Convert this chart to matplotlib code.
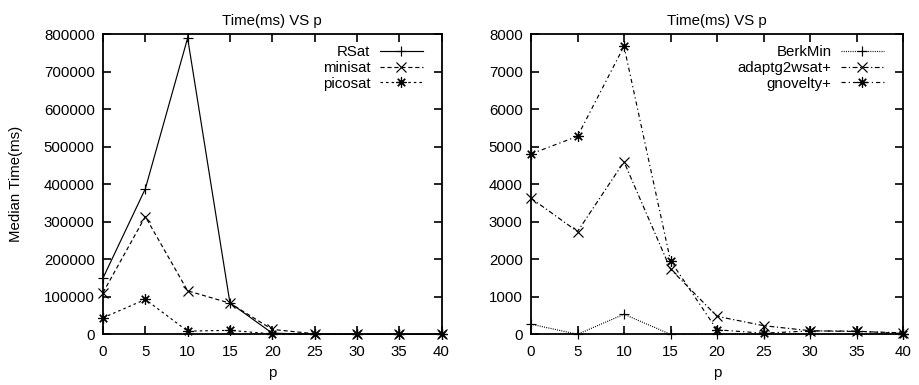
import matplotlib
matplotlib.use("Agg")
import matplotlib.pyplot as plt

plt.rcParams['font.family'] = ['Liberation Sans', 'DejaVu Sans']
plt.rcParams['lines.scale_dashes'] = False

p = [0, 5, 10, 15, 20, 25, 30, 35, 40]

# left panel (ms)
rsat = [150000, 388000, 790000, 84000, 3000, 0, 0, 0, 0]
minisat = [111000, 314000, 116000, 83000, 13000, 1500, 0, 0, 0]
picosat = [44000, 93000, 8500, 10500, 1000, 0, 0, 0, 0]

# right panel (ms)
berkmin = [270, 0, 535, 0, 0, 0, 0, 0, 0]
adaptg2wsat = [3630, 2740, 4600, 1740, 480, 230, 95, 75, 40]
gnovelty = [4810, 5280, 7680, 1960, 120, 30, 90, 85, 20]

title = "Time(ms) VS p"
xlabel = "p"
ylabel = "Median Time(ms)"
left_yticks = [0, 100000, 200000, 300000, 400000, 500000, 600000, 700000, 800000]
right_yticks = [0, 1000, 2000, 3000, 4000, 5000, 6000, 7000, 8000]
xticks = [0, 5, 10, 15, 20, 25, 30, 35, 40]

W, H = 919, 385
fig = plt.figure(figsize=(W / 100, H / 100), dpi=100)

def px_axes(x0, x1, ytop, ybot):
    return fig.add_axes([x0 / W, 1 - ybot / H, (x1 - x0) / W, (ybot - ytop) / H])

ax1 = px_axes(103, 441.5, 34.3, 334.3)
ax2 = px_axes(531, 903, 34.3, 334.3)

fs = 10.8
lw = 0.85
ms = 7.5
star = (8, 2, 0)

def style(ax, yticks, ymax):
    ax.set_xlim(0, 40)
    ax.set_ylim(0, ymax)
    ax.set_xticks(xticks)
    ax.set_yticks(yticks)
    ax.set_xticklabels([str(v) for v in xticks])
    ax.set_yticklabels([str(v) for v in yticks])
    ax.tick_params(direction='in', length=6, width=1.2, top=True, right=True,
                   labelsize=fs, colors='black')
    ax.tick_params(axis='y', pad=6)
    ax.tick_params(axis='x', pad=8)
    for s in ax.spines.values():
        s.set_linewidth(1.3)
    ax.set_title(title, fontsize=fs, pad=7)
    ax.set_xlabel(xlabel, fontsize=fs, labelpad=5)

ax1.plot(p, rsat, color='black', lw=lw, ls='-', marker='+', ms=ms, mew=lw, label='RSat', clip_on=False)
ax1.plot(p, minisat, color='black', lw=lw, ls=(0, (3, 2)), marker='x', ms=ms - 1, mew=lw, label='minisat', clip_on=False)
ax1.plot(p, picosat, color='black', lw=lw, ls=(0, (1.8, 2.2)), marker=star, ms=ms, mew=lw, label='picosat', clip_on=False)
style(ax1, left_yticks, 800000)
ax1.set_ylabel(ylabel, fontsize=fs, labelpad=15)

ax2.plot(p, berkmin, color='black', lw=lw, ls=(0, (0.7, 0.9)), marker='+', ms=ms, mew=lw, label='BerkMin', clip_on=False)
ax2.plot(p, adaptg2wsat, color='black', lw=lw, ls=(0, (3.5, 1.8, 0.9, 1.8)), marker='x', ms=ms - 1, mew=lw, label='adaptg2wsat+', clip_on=False)
ax2.plot(p, gnovelty, color='black', lw=lw, ls=(0, (3, 2.2, 0.9, 2.2)), marker=star, ms=ms, mew=lw, label='gnovelty+', clip_on=False)
style(ax2, right_yticks, 8000)

for ax, xr in ((ax1, 423), (ax2, 884)):
    ax.legend(loc='upper right', frameon=False, markerfirst=False, fontsize=fs,
              handlelength=2.9, handletextpad=0.6, labelspacing=0.12, borderpad=0,
              borderaxespad=0,
              bbox_to_anchor=(xr / W, 1 - 45 / H), bbox_transform=fig.transFigure)

fig.savefig("out.png", dpi=100)
